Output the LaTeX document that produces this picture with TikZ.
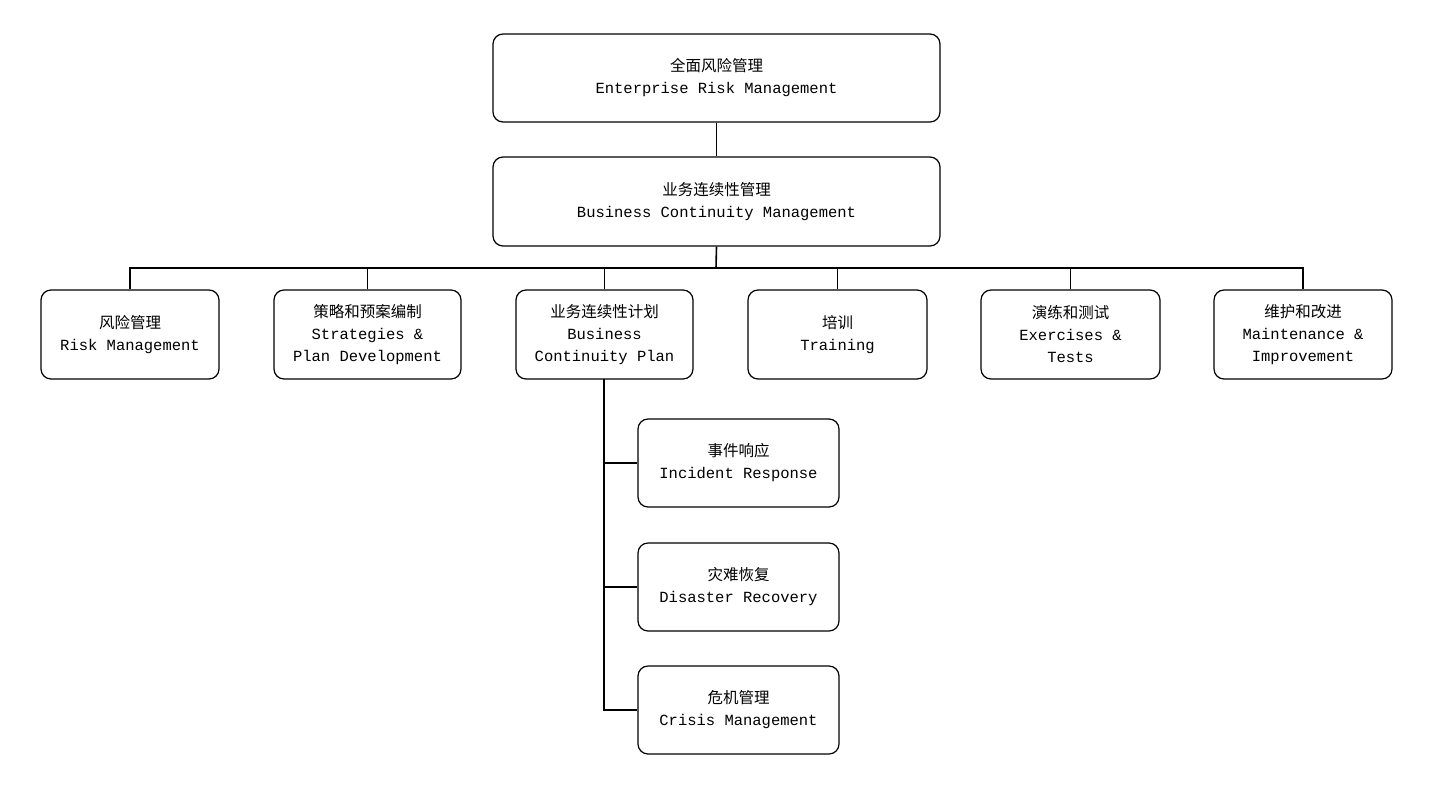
\documentclass[tikz,border=0pt]{standalone}
\usepackage{fontspec}
\setmainfont{Liberation Mono}
\newfontfamily\cjk{Noto Sans CJK SC}
\begin{document}
\begin{tikzpicture}[x=1pt,y=-1pt,
 box/.style={draw,line width=1.2pt,rounded corners=10pt,align=center,font=\fontsize{15.5}{22}\selectfont,inner sep=0pt},
 ln/.style={line width=1.6pt}]
\useasboundingbox (0,0) rectangle (1432,788);
\newcommand\mkbox[6]{\node[box,minimum width=#4-#2,minimum height=#5-#3] (#1) at ({(#2+#4)/2},{(#3+#5)/2}) {#6};}
\mkbox{erm}{493}{34}{940}{122}{{\cjk 全面风险管理}\\Enterprise Risk Management}
\mkbox{bcm}{493}{157}{940}{246}{{\cjk 业务连续性管理}\\Business Continuity Management}
\mkbox{rm}{41}{290}{219}{379}{{\cjk 风险管理}\\Risk Management}
\mkbox{sp}{274}{290}{461}{379}{{\cjk 策略和预案编制}\\Strategies \&\\Plan Development}
\mkbox{bcp}{516}{290}{693}{379}{{\cjk 业务连续性计划}\\Business\\Continuity Plan}
\mkbox{tr}{748}{290}{927}{379}{{\cjk 培训}\\Training}
\mkbox{ex}{981}{290}{1160}{379}{{\cjk 演练和测试}\\Exercises \&\\Tests}
\mkbox{mi}{1214}{290}{1392}{379}{{\cjk 维护和改进}\\Maintenance \&\\Improvement}
\mkbox{ir}{638}{419}{839}{507}{{\cjk 事件响应}\\Incident Response}
\mkbox{dr}{638}{543}{839}{631}{{\cjk 灾难恢复}\\Disaster Recovery}
\mkbox{cm}{638}{666}{839}{754}{{\cjk 危机管理}\\Crisis Management}
\draw[ln] (erm) -- (bcm);
\coordinate (bus) at (716,268);
\draw[ln] (bcm.south) -- (bus);
\draw[ln] (rm.north) |- (bus) -| (mi.north);
\foreach \n in {sp,bcp,tr,ex} \draw[ln] (\n.north) -- (\n.north |- bus);
\coordinate (t) at (604,379);
\draw[ln] (t) |- (cm.west);
\draw[ln] (t |- ir.west) -- (ir.west);
\draw[ln] (t |- dr.west) -- (dr.west);
\end{tikzpicture}
\end{document}
